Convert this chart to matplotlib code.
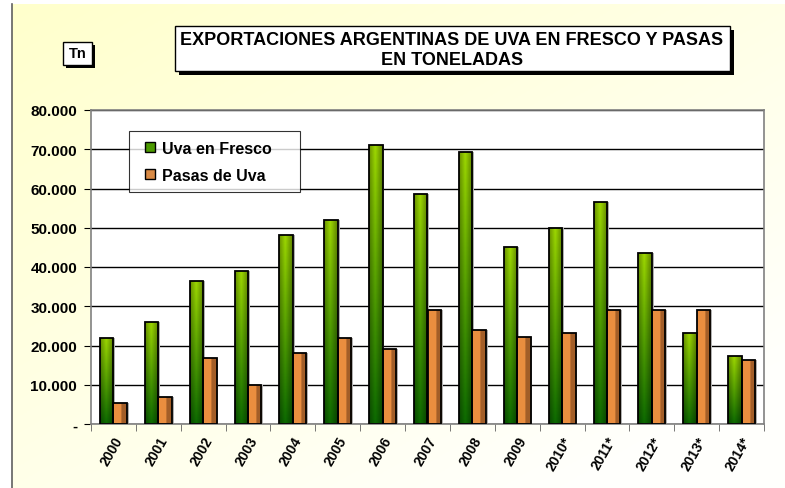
import numpy as np
import matplotlib
matplotlib.use('Agg')
from matplotlib import pyplot as plt
from matplotlib.patches import Rectangle
from matplotlib.lines import Line2D
from matplotlib.ticker import FuncFormatter, MultipleLocator

years = ['2000', '2001', '2002', '2003', '2004', '2005', '2006', '2007',
         '2008', '2009', '2010*', '2011*', '2012*', '2013*', '2014*']
uva_fresco = [22000, 26000, 36500, 39000, 48200, 52000, 71000, 58700,
              69300, 45000, 50000, 56500, 43500, 23300, 17300]
pasas_uva = [5300, 7000, 16900, 9900, 18200, 21800, 19200, 29100,
             23900, 22100, 23300, 29100, 29100, 29100, 16400]

plt.rcParams['font.family'] = ['Liberation Sans', 'DejaVu Sans']

fig = plt.figure(figsize=(7.85, 4.89), dpi=100)

# yellowish background, fades to white toward bottom right
bg = fig.add_axes([12/785, 0, 1 - 12/785, 1 - 5/489])
bg.set_axis_off()
gx, gy = np.meshgrid(np.linspace(0, 1, 200), np.linspace(0, 1, 200))
g = np.clip(0.55 * gx + 0.6 * gy, 0, 1)
c0 = np.array([1.0, 1.0, 0.80])
c1 = np.array([1.0, 1.0, 0.99])
img = c0[None, None, :] * (1 - g[..., None]) + c1[None, None, :] * g[..., None]
bg.imshow(img, extent=[0, 1, 0, 1], aspect='auto')
bg.set_xlim(0, 1)
bg.set_ylim(0, 1)
fig.add_artist(plt.Line2D([12/785, 12/785], [0, 1 - 5/489], color='#606060', lw=1.2))

ax = fig.add_axes([91/785, 64/489, 673/785, 314/489])
ax.set_facecolor('white')

x = np.arange(len(years))
w = 0.3
b1 = ax.bar(x - w/2, uva_fresco, w, color='none', edgecolor='black', lw=1.3, zorder=3)
b2 = ax.bar(x + w/2, pasas_uva, w, color='none', edgecolor='black', lw=1.3, zorder=3)


def shade(bars, kind):
    for r in bars:
        x0, y0 = r.get_x(), r.get_y()
        bw, bh = r.get_width(), r.get_height()
        # small gray shadow to the right
        ax.add_patch(Rectangle((x0 + bw, y0), 0.04, bh, color='#b0b0b0', zorder=2, lw=0))
        if kind == 'g':
            t = np.linspace(0, 1, 60)[:, None]
            s = np.linspace(0, 1, 20)[None, :]
            top = np.array([0.62, 0.85, 0.0])
            bot = np.array([0.05, 0.42, 0.0])
            col = top * (1 - t[..., None]) + bot * t[..., None]
            edge = 1 - 0.35 * np.abs(s - 0.45)[..., None] * 2
            col = col * edge
            col = np.broadcast_to(col, (60, 20, 3))
        else:
            s = np.linspace(0, 1, 20)
            light = np.array([0.92, 0.56, 0.25])
            dark = np.array([0.64, 0.37, 0.16])
            col = np.where((s < 0.6)[:, None], light, dark)
            col = np.broadcast_to(col[None, :, :], (60, 20, 3))
        im = ax.imshow(col, extent=[x0, x0 + bw, y0, y0 + bh], aspect='auto',
                       zorder=2.5, origin='lower' if kind == 'o' else 'upper')
        im.set_clip_path(r)


shade(b1, 'g')
shade(b2, 'o')

ax.set_xlim(-0.5, len(years) - 0.5)
ax.set_ylim(0, 80000)
ax.yaxis.set_major_locator(MultipleLocator(10000))
ax.yaxis.set_major_formatter(FuncFormatter(
    lambda v, p: '-' if v == 0 else f'{int(v):,}'.replace(',', '.')))
ax.grid(axis='y', color='black', lw=1, zorder=1)
ax.set_axisbelow(True)
for sp in ax.spines.values():
    sp.set_color('#808080')
    sp.set_linewidth(1.2)

ax.set_xticks(x)
ax.set_xticklabels(years, rotation=60, ha='right', rotation_mode='anchor',
                   fontsize=10, fontweight='bold')
ax.tick_params(axis='x', which='major', length=0, pad=7)
ax.set_xticks(np.arange(-0.5, len(years), 1), minor=True)
ax.tick_params(axis='x', which='minor', length=5, color='#606060')
ax.tick_params(axis='y', length=5, color='black', labelsize=11, pad=5)
for lab in ax.get_yticklabels():
    lab.set_fontweight('bold')

handles = [Line2D([], [], ls='none', marker='s', markersize=6.5, markerfacecolor='#4c9a00',
                  markeredgecolor='black', label='Uva en Fresco'),
           Line2D([], [], ls='none', marker='s', markersize=6.5, markerfacecolor='#d98a45',
                  markeredgecolor='black', label='Pasas de Uva')]
leg = ax.legend(handles=handles, loc='upper left',
                bbox_to_anchor=(38/673, 1 - 21/314, 171/673, 0.0),
                mode='expand', frameon=True, fancybox=False, fontsize=11.5,
                handlelength=1.4, handletextpad=0.05, borderpad=0.6,
                labelspacing=0.75, borderaxespad=0)
leg.get_frame().set_edgecolor('black')
leg.get_frame().set_linewidth(0.8)
for t in leg.get_texts():
    t.set_fontweight('bold')

# title box with shadow
fig.patches.append(Rectangle((179/785, 1 - 76/489), 555/785, 45/489, transform=fig.transFigure,
                             facecolor='black', edgecolor='none', zorder=5))
fig.patches.append(Rectangle((175/785, 1 - 72/489), 555/785, 45/489, transform=fig.transFigure,
                             facecolor='white', edgecolor='black', lw=1, zorder=6))
fig.text(452/785, 1 - 50.5/489, 'EXPORTACIONES ARGENTINAS DE UVA EN FRESCO Y PASAS\nEN TONELADAS',
         ha='center', va='center', fontsize=13, fontweight='bold', linespacing=1.25,
         zorder=7)

# "Tn" box
fig.patches.append(Rectangle((66/785, 1 - 69/489), 29/785, 23/489, transform=fig.transFigure,
                             facecolor='black', edgecolor='none', zorder=5))
fig.patches.append(Rectangle((63/785, 1 - 66/489), 29/785, 23/489, transform=fig.transFigure,
                             facecolor='white', edgecolor='black', lw=1, zorder=6))
fig.text(77.5/785, 1 - 54.5/489, 'Tn', ha='center', va='center', fontsize=10.5,
         fontweight='bold', zorder=7)

fig.savefig('out.png', dpi=100)
